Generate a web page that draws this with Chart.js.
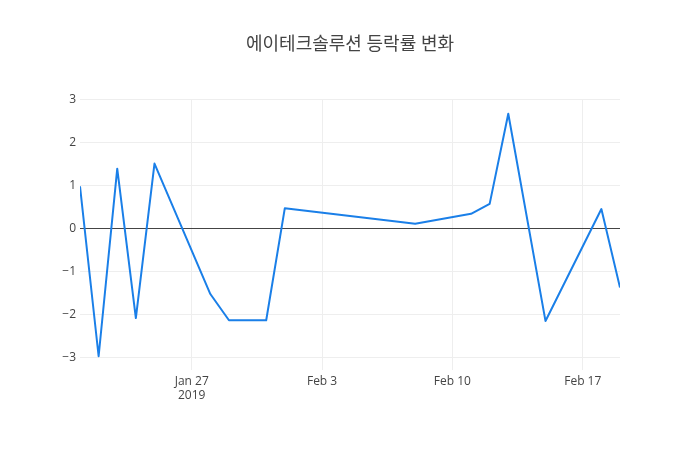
<!DOCTYPE html>
<html>
<head>
<meta charset="utf-8">
<script src="https://cdn.jsdelivr.net/npm/chart.js@4.4.3/dist/chart.umd.min.js"></script>
<style>
  html, body { margin: 0; padding: 0; background: #fff; }
  #wrap { width: 700px; height: 450px; }
</style>
</head>
<body>
<div id="wrap"><canvas id="chart" width="700" height="450"></canvas></div>
<script>
// trading days and daily change (%)
const dates = [
  '2019-01-21', '2019-01-22', '2019-01-23', '2019-01-24', '2019-01-25',
  '2019-01-28', '2019-01-29', '2019-01-31', '2019-02-01', '2019-02-08',
  '2019-02-11', '2019-02-12', '2019-02-13', '2019-02-15', '2019-02-18',
  '2019-02-19'
];
const changes = [
  0.98, -2.98, 1.39, -2.09, 1.51,
  -1.53, -2.14, -2.14, 0.47, 0.11,
  0.34, 0.57, 2.67, -2.16, 0.45,
  -1.38
];
const xTickDates = ['2019-01-27', '2019-02-03', '2019-02-10', '2019-02-17'];
const yTicks = [-3, -2, -1, 0, 1, 2, 3];
const titleText = '에이테크솔루션 등락률 변화';

const DAY = 86400000;
const toDay = s => Date.parse(s + 'T00:00:00Z') / DAY;
const months = ['Jan', 'Feb', 'Mar', 'Apr', 'May', 'Jun', 'Jul', 'Aug', 'Sep', 'Oct', 'Nov', 'Dec'];

const points = dates.map((d, i) => ({ x: toDay(d), y: changes[i] }));
const FONT = '"Open Sans", "Noto Sans CJK KR", sans-serif';

new Chart(document.getElementById('chart'), {
  type: 'line',
  data: {
    datasets: [{
      data: points,
      borderColor: '#1a7fe8',
      borderWidth: 2,
      borderJoinStyle: 'round',
      pointRadius: 0,
      tension: 0,
      fill: false
    }]
  },
  options: {
    responsive: false,
    animation: false,
    scales: {
      x: {
        type: 'linear',
        min: toDay('2019-01-21'),
        max: toDay('2019-02-19'),
        afterBuildTicks: scale => {
          scale.ticks = xTickDates.map(d => ({ value: toDay(d) }));
        },
        afterFit: scale => { scale.height = 80; },
        border: { display: false },
        grid: { color: '#eeeeee', drawTicks: false },
        ticks: {
          padding: 4,
          color: '#444',
          font: { family: FONT, size: 12 },
          maxRotation: 0,
          callback: (v, i) => {
            const dt = new Date(v * DAY);
            const label = months[dt.getUTCMonth()] + ' ' + dt.getUTCDate();
            return i === 0 ? [label, String(dt.getUTCFullYear())] : label;
          }
        }
      },
      y: {
        min: -3.3,
        max: 3,
        afterBuildTicks: scale => {
          scale.ticks = yTicks.map(v => ({ value: v }));
        },
        afterFit: scale => { scale.width = 80; },
        border: { display: false },
        grid: {
          color: ctx => ctx.tick && ctx.tick.value === 0 ? '#444' : '#eeeeee',
          drawTicks: false
        },
        ticks: {
          padding: 4,
          color: '#444',
          font: { family: FONT, size: 12 },
          callback: v => (v < 0 ? '\u2212' + Math.abs(v) : String(v))
        }
      },
      // empty right axis, only to reserve the right margin
      yRight: {
        position: 'right',
        min: -3.3,
        max: 3,
        afterFit: scale => { scale.width = 80; },
        border: { display: false },
        grid: { display: false },
        ticks: { display: false }
      }
    },
    plugins: {
      legend: { display: false },
      tooltip: { enabled: false },
      title: {
        display: true,
        text: titleText,
        color: '#444',
        font: { family: FONT, size: 18, weight: 'normal' },
        padding: { top: 34, bottom: 44 }
      }
    }
  }
});
</script>
</body>
</html>
